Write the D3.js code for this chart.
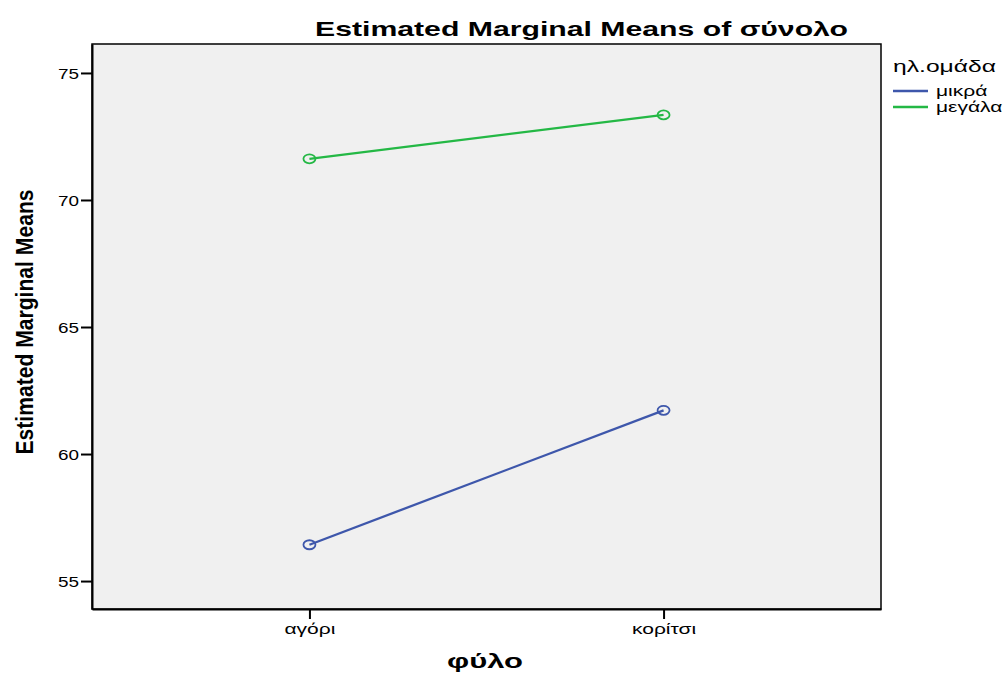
<!DOCTYPE html>
<html>
<head>
<meta charset="utf-8">
<style>
  body { margin: 0; background: #fff; }
  text { font-family: "Liberation Sans", Arial, sans-serif; fill: #000; }
</style>
</head>
<body>
<div id="chart"></div>
<script src="https://d3js.org/d3.v7.min.js"></script>
<script>
// data
var groups = ["αγόρι", "κορίτσι"];
var seriesNames = ["μικρά", "μεγάλα"];
var mikra = [56.43, 61.72];
var megala = [71.62, 73.35];
var yTicks = [55, 60, 65, 70, 75];
var colors = ["#3e57ab", "#24b845"];

var width = 1005, height = 673;
var margin = {top: 44, right: 124, bottom: 64, left: 92};

var svg = d3.select("#chart").append("svg")
    .attr("width", width)
    .attr("height", height);

// the picture is stretched sideways, so text gets widened
function widen(sel, k) {
  sel.each(function() {
    var w = this.getComputedTextLength();
    d3.select(this)
        .attr("textLength", w * k)
        .attr("lengthAdjust", "spacingAndGlyphs");
  });
}

var x = d3.scalePoint()
    .domain(groups)
    .range([margin.left, width - margin.right])
    .padding(0.614);

var y = d3.scaleLinear()
    .domain([53.9, 76.14])
    .range([height - margin.bottom, margin.top]);

// plot background and frame
svg.append("rect")
    .attr("x", margin.left)
    .attr("y", margin.top)
    .attr("width", width - margin.right - margin.left)
    .attr("height", height - margin.bottom - margin.top)
    .attr("fill", "#f0f0f0")
    .attr("stroke", "#000")
    .attr("stroke-width", 1.5);

var yAxis = svg.append("g")
    .attr("transform", "translate(" + margin.left + ",0)")
    .call(d3.axisLeft(y).tickValues(yTicks).tickSize(11).tickPadding(2).tickSizeOuter(0));
yAxis.select(".domain").attr("stroke-width", 2);
yAxis.selectAll(".tick line").attr("stroke-width", 2);
yAxis.selectAll(".tick text").style("font-size", "14px").attr("dy", "0.36em");
widen(yAxis.selectAll(".tick text"), 1.35);

var xAxis = svg.append("g")
    .attr("transform", "translate(0," + (height - margin.bottom) + ")")
    .call(d3.axisBottom(x).tickSize(10).tickPadding(5).tickSizeOuter(0));
xAxis.select(".domain").attr("stroke-width", 2);
xAxis.selectAll(".tick line").attr("stroke-width", 2);
xAxis.selectAll(".tick text").style("font-size", "14px");
widen(xAxis.selectAll(".tick text"), 1.5);

var series = [mikra, megala];
var line = d3.line()
    .x(function(d, i) { return x(groups[i]); })
    .y(function(d) { return y(d); });

series.forEach(function(vals, s) {
  svg.append("path")
      .datum(vals)
      .attr("fill", "none")
      .attr("stroke", colors[s])
      .attr("stroke-width", 2.3)
      .attr("d", line);
  svg.selectAll(".pt" + s)
      .data(vals)
      .join("ellipse")
      .attr("cx", function(d, i) { return x(groups[i]); })
      .attr("cy", function(d) { return y(d); })
      .attr("rx", 6)
      .attr("ry", 4.5)
      .attr("fill", "none")
      .attr("stroke", colors[s])
      .attr("stroke-width", 1.8);
});

// titles
svg.append("text")
    .attr("x", 315)
    .attr("y", 36)
    .attr("textLength", 533)
    .attr("lengthAdjust", "spacingAndGlyphs")
    .style("font-size", "21px")
    .style("font-weight", "bold")
    .text("Estimated Marginal Means of σύνολο");

svg.append("text")
    .attr("x", 447)
    .attr("y", 668)
    .attr("textLength", 76)
    .attr("lengthAdjust", "spacingAndGlyphs")
    .style("font-size", "20px")
    .style("font-weight", "bold")
    .text("φύλο");

svg.append("text")
    .attr("transform", "translate(33,322) rotate(-90)")
    .attr("text-anchor", "middle")
    .attr("textLength", 265)
    .attr("lengthAdjust", "spacingAndGlyphs")
    .style("font-size", "23px")
    .style("font-weight", "bold")
    .text("Estimated Marginal Means");

// legend
var legend = svg.append("g").attr("transform", "translate(893,0)");
var lt = legend.append("text")
    .attr("x", 0)
    .attr("y", 72)
    .style("font-size", "17px")
    .text("ηλ.ομάδα");
widen(lt, 1.45);
seriesNames.forEach(function(name, i) {
  var ly = 91 + i * 16;
  legend.append("line")
      .attr("x1", 0).attr("x2", 35)
      .attr("y1", ly).attr("y2", ly)
      .attr("stroke", colors[i])
      .attr("stroke-width", 2.3);
  var t = legend.append("text")
      .attr("x", 43)
      .attr("y", ly + 5)
      .style("font-size", "14px")
      .text(name);
  widen(t, 1.5);
});
</script>
</body>
</html>
